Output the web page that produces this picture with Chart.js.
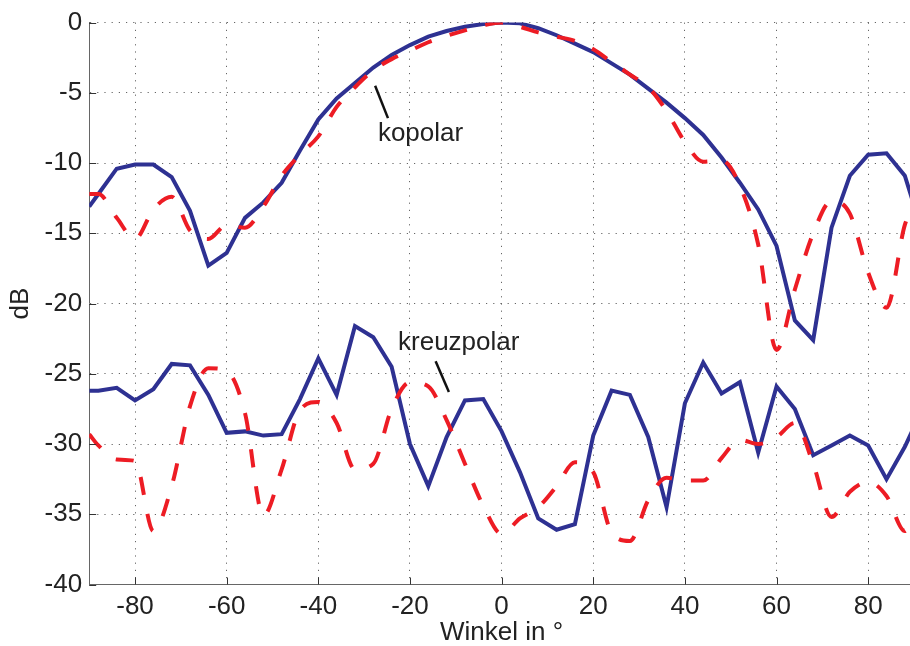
<!DOCTYPE html>
<html>
<head>
<meta charset="utf-8">
<script src="https://cdn.jsdelivr.net/npm/chart.js@4.4.0/dist/chart.umd.min.js"></script>
<style>
  html, body { margin: 0; padding: 0; background: #fff; overflow: hidden; }
</style>
</head>
<body>
<canvas id="chartDiagramm" width="914" height="646"></canvas>
<script>
// Winkel in Grad, Werte in dB
const winkel = [-90, -88, -84, -80, -76, -72, -68, -64, -60, -56, -52, -48, -44, -40, -36, -32,
  -28, -24, -20, -16, -12, -8, -4, 0, 4, 8, 12, 16, 20, 24, 28, 32, 36, 40, 44, 48, 52, 56,
  60, 64, 68, 72, 76, 80, 84, 88, 90];

const kopolarBlau = [-13.1, -12.2, -10.4, -10.1, -10.1, -11.0, -13.4, -17.3, -16.4, -13.9, -12.8, -11.4,
  -9.1, -6.9, -5.4, -4.3, -3.2, -2.3, -1.6, -1.0, -0.6, -0.3, -0.1, 0, -0.05, -0.4, -0.9, -1.5,
  -2.1, -2.9, -3.7, -4.7, -5.7, -6.8, -8.0, -9.6, -11.4, -13.3, -15.9, -21.2, -22.6, -14.6, -10.9,
  -9.4, -9.3, -10.9, -13.0];

const kopolarRot = [-12.2, -12.2, -13.9, -15.4, -13.3, -12.4, -14.8, -15.4, -14.4, -14.6, -13.1, -10.9,
  -9.4, -8.1, -6.0, -4.6, -3.4, -2.6, -2.0, -1.4, -0.95, -0.55, -0.2, 0, -0.3, -0.7, -1.0, -1.3,
  -1.9, -2.8, -3.7, -4.6, -6.3, -8.5, -9.9, -9.8, -11.6, -15.8, -23.3, -19.0, -15.0, -12.7, -13.6,
  -17.8, -20.3, -14.4, -13.0];

const kreuzpolarBlau = [-26.2, -26.2, -26.0, -26.9, -26.1, -24.3, -24.4, -26.5, -29.2, -29.1, -29.4, -29.3,
  -26.8, -23.9, -26.5, -21.6, -22.4, -24.5, -30.0, -33.0, -29.5, -26.9, -26.8, -29.1, -32.0, -35.3,
  -36.1, -35.7, -29.4, -26.2, -26.5, -29.5, -34.5, -27.1, -24.2, -26.4, -25.6, -30.6, -25.9, -27.5,
  -30.8, -30.1, -29.4, -30.1, -32.5, -30.2, -28.8];

const kreuzpolarRot = [-29.3, -30.1, -31.1, -31.2, -36.2, -33.0, -27.3, -24.6, -24.8, -27.8, -35.1, -31.8,
  -27.6, -27.0, -28.5, -31.8, -31.4, -27.5, -25.6, -25.9, -28.3, -31.4, -34.4, -36.4, -35.3, -34.5,
  -33.0, -31.3, -32.0, -36.3, -36.9, -34.0, -32.4, -32.6, -32.6, -31.0, -29.7, -30.0, -29.5, -28.5,
  -31.4, -35.2, -33.4, -32.7, -33.7, -36.2, -34.8];

const winkelTicks = [-80, -60, -40, -20, 0, 20, 40, 60, 80];
const dbTicks = [0, -5, -10, -15, -20, -25, -30, -35, -40];

const blau = '#2e3192';
const rot = '#ed1c24';
const textFarbe = '#222';
const schrift = { family: '"Liberation Sans", Arial, sans-serif', size: 26 };

function punkte(werte) {
  return werte.map((v, i) => ({ x: winkel[i], y: v }));
}

// Beschriftungen im Diagramm (Datenkoordinaten)
const beschriftungen = [
  { text: 'kopolar', at: [-27.0, -8.4], linie: [[-27.6, -4.5], [-24.8, -6.8]] },
  { text: 'kreuzpolar', at: [-22.6, -23.3], linie: [[-14.4, -24.1], [-11.5, -26.3]] }
];

const extras = {
  id: 'extras',
  afterDatasetsDraw(chart) {
    const { ctx, scales: { x, y }, chartArea } = chart;
    ctx.save();
    // Ticks nach innen
    ctx.strokeStyle = '#333';
    ctx.lineWidth = 1;
    ctx.beginPath();
    winkelTicks.forEach(v => {
      const px = Math.round(x.getPixelForValue(v)) + 0.5;
      ctx.moveTo(px, chartArea.bottom);
      ctx.lineTo(px, chartArea.bottom - 7);
    });
    dbTicks.forEach(v => {
      const py = Math.round(y.getPixelForValue(v)) + 0.5;
      ctx.moveTo(chartArea.left, py);
      ctx.lineTo(chartArea.left + 7, py);
    });
    ctx.stroke();

    ctx.font = `${schrift.size}px ${schrift.family}`;
    ctx.fillStyle = textFarbe;
    ctx.strokeStyle = '#111';
    ctx.lineWidth = 2.5;
    ctx.textBaseline = 'alphabetic';
    ctx.textAlign = 'left';
    beschriftungen.forEach(b => {
      ctx.beginPath();
      ctx.moveTo(x.getPixelForValue(b.linie[0][0]), y.getPixelForValue(b.linie[0][1]));
      ctx.lineTo(x.getPixelForValue(b.linie[1][0]), y.getPixelForValue(b.linie[1][1]));
      ctx.stroke();
      ctx.fillText(b.text, x.getPixelForValue(b.at[0]), y.getPixelForValue(b.at[1]));
    });
    ctx.restore();
  }
};

const gitter = { color: 'rgba(0,0,0,0.6)', lineWidth: 1, drawTicks: false };

new Chart(document.getElementById('chartDiagramm'), {
  type: 'line',
  data: {
    datasets: [
      {
        label: 'kopolar (rot)',
        data: punkte(kopolarRot),
        borderColor: rot,
        borderWidth: 4,
        borderDash: [18, 19],
        cubicInterpolationMode: 'monotone',
        pointRadius: 0,
        order: 0
      },
      {
        label: 'kreuzpolar (rot)',
        data: punkte(kreuzpolarRot),
        borderColor: rot,
        borderWidth: 4,
        borderDash: [18, 19],
        cubicInterpolationMode: 'monotone',
        pointRadius: 0,
        order: 0
      },
      {
        label: 'kopolar (blau)',
        data: punkte(kopolarBlau),
        borderColor: blau,
        borderWidth: 4,
        tension: 0,
        pointRadius: 0,
        order: 1
      },
      {
        label: 'kreuzpolar (blau)',
        data: punkte(kreuzpolarBlau),
        borderColor: blau,
        borderWidth: 4,
        tension: 0,
        pointRadius: 0,
        order: 1
      }
    ]
  },
  options: {
    responsive: false,
    animation: false,
    layout: { padding: { top: 19.3, left: 0, right: 0, bottom: 0 } },
    plugins: { legend: { display: false }, tooltip: { enabled: false } },
    scales: {
      x: {
        type: 'linear',
        min: -90,
        max: 90,
        afterBuildTicks: s => { s.ticks = winkelTicks.map(v => ({ value: v })); },
        afterFit: s => { s.height = 61.5; },
        grid: gitter,
        border: { display: true, color: '#666', width: 1, dash: [1.2, 6] },
        ticks: { font: schrift, color: textFarbe, padding: 7, maxRotation: 0, autoSkip: false, callback: v => String(v) },
        title: { display: true, text: 'Winkel in °', color: textFarbe, font: { ...schrift, lineHeight: 1 }, padding: { top: 0, bottom: 0 } }
      },
      y: {
        type: 'linear',
        min: -40,
        max: 0,
        afterBuildTicks: s => { s.ticks = dbTicks.map(v => ({ value: v })); },
        afterFit: s => { s.width = 89.2; },
        grid: gitter,
        border: { display: true, color: '#666', width: 1, dash: [1.2, 6] },
        ticks: { font: schrift, color: textFarbe, padding: 7, callback: v => String(v) },
        title: { display: true, text: 'dB', color: textFarbe, font: { ...schrift, lineHeight: 1 }, padding: { top: 8, bottom: 0 } }
      }
    }
  },
  plugins: [extras]
});
</script>
</body>
</html>
